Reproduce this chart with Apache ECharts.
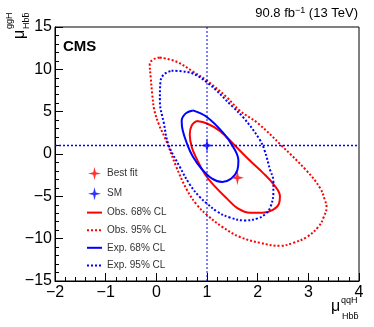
<!DOCTYPE html>
<html>
<head>
<meta charset="utf-8">
<title>mu ggH vs qqH</title>
<script src="https://cdn.jsdelivr.net/npm/echarts@6/dist/echarts.min.js"></script>
</head>
<body style="margin:0">
<div id="chart" style="width:374px;height:327px"></div>
<script>
// points: [mu qqH, mu ggH]
var bestFit = [[1.6, -2.8]];
var smPoint = [[1, 1]];

var obs68 = [[0.80, 3.9], [1.0, 3.6], [1.26, 2.7], [1.55, 1.0], [1.85, -0.8], [2.1, -2.2],
    [2.31, -3.55], [2.44, -5.0], [2.42, -5.9], [2.3, -6.6], [2.1, -6.95], [1.85, -6.95],
    [1.6, -6.4], [1.4, -5.3], [1.15, -3.8], [0.96, -2.4], [0.8, -0.6], [0.7, 0.8],
    [0.66, 2.3], [0.7, 3.4], [0.80, 3.9]];

var exp68 = [[0.72, 5.15], [0.99, 4.4], [1.32, 2.5], [1.52, 0.8], [1.62, -0.8], [1.6, -1.9],
    [1.48, -2.9], [1.3, -3.3], [1.1, -2.9], [0.9, -1.8], [0.72, -0.3], [0.6, 1.3],
    [0.52, 2.8], [0.5, 3.9], [0.58, 4.8], [0.72, 5.15]];

var obs95 = [[0.07, 11.4], [0.40, 10.9], [0.73, 9.7], [0.99, 8.7], [1.39, 6.7], [1.65, 5.1],
    [2.01, 3.6], [2.47, 1.0], [2.97, -2.0], [3.23, -4.0], [3.33, -5.5], [3.36, -6.3],
    [3.3, -7.5], [3.2, -8.6], [2.97, -9.8], [2.7, -10.5], [2.45, -10.85], [2.05, -10.5],
    [1.65, -9.8], [1.3, -8.6], [1.0, -7.2], [0.8, -6.0], [0.6, -4.2], [0.4, -1.6],
    [0.2, 1.5], [0.05, 3.5], [-0.04, 5.2], [-0.08, 7.0], [-0.11, 9.0], [-0.13, 10.6],
    [-0.05, 11.2], [0.07, 11.4]];

var exp95 = [[0.3, 9.83], [0.6, 9.7], [0.99, 8.5], [1.52, 5.5], [1.72, 4.3], [2.03, 1.8],
    [2.14, 0.35], [2.24, -1.8], [2.31, -3.2], [2.31, -4.5], [2.25, -6.3], [2.15, -7.1],
    [2.0, -7.6], [1.75, -7.85], [1.45, -7.5], [1.2, -6.8], [0.99, -5.8], [0.86, -5.1],
    [0.66, -3.6], [0.47, -1.6], [0.24, 1.1], [0.15, 3.6], [0.07, 6.3], [0.08, 8.5],
    [0.15, 9.4], [0.3, 9.83]];

var xTicks = [-2, 4, 1];
var yTicks = [-15, 15, 5];

var star = 'path://M0,-10 L2,-2 L10,0 L2,2 L0,10 L-2,2 L-10,0 L-2,-2 Z';
var font = 'Liberation Sans';

function minus(v) {
    return String(v).replace('-', '\u2212');
}

var chart = echarts.init(document.getElementById('chart'));

var contour = function (name, data, color, dotted) {
    return {
        name: name,
        type: 'line',
        data: data,
        smooth: 0.4,
        symbol: 'none',
        z: 2,
        lineStyle: {color: color, width: 2, type: dotted ? [2, 2] : 'solid'},
        itemStyle: {color: color}
    };
};

// SM guide lines across the whole frame
var guide = function (data, w) {
    return {
        type: 'line', data: data, symbol: 'none', silent: true, z: 3,
        color: '#0000ff',
        lineStyle: {color: '#0000ff', opacity: 1, width: w, type: [2, 2]}
    };
};

var noDot = {opacity: 0};

var option = {
    animation: false,
    grid: {left: 55, right: 15, top: 27, bottom: 46, show: true, borderColor: '#000', borderWidth: 1},
    xAxis: {
        type: 'value', min: xTicks[0], max: xTicks[1], interval: xTicks[2],
        axisLine: {onZero: false, lineStyle: {color: '#000'}},
        axisTick: {inside: true, length: 8, lineStyle: {color: '#000'}},
        minorTick: {show: true, splitNumber: 5, length: 4, lineStyle: {color: '#000'}},
        splitLine: {show: false},
        axisLabel: {color: '#000', fontSize: 16, fontFamily: font, margin: 4, formatter: minus}
    },
    yAxis: {
        type: 'value', min: yTicks[0], max: yTicks[1], interval: yTicks[2],
        axisLine: {onZero: false, lineStyle: {color: '#000'}},
        axisTick: {inside: true, length: 8, lineStyle: {color: '#000'}},
        minorTick: {show: true, splitNumber: 5, length: 4, lineStyle: {color: '#000'}},
        splitLine: {show: false},
        axisLabel: {color: '#000', fontSize: 16, fontFamily: font, margin: 3, formatter: minus}
    },
    legend: {
        orient: 'vertical', left: 81, top: 162,
        itemWidth: 15, itemHeight: 13, itemGap: 7.2,
        textStyle: {fontSize: 10, color: '#333', fontFamily: font},
        data: [
            {name: 'Best fit'},
            {name: 'SM'},
            {name: 'Obs. 68% CL', itemStyle: noDot},
            {name: 'Obs. 95% CL', itemStyle: noDot},
            {name: 'Exp. 68% CL', itemStyle: noDot},
            {name: 'Exp. 95% CL', itemStyle: noDot}
        ]
    },
    graphic: [
        {type: 'text', right: 16, top: 6, style: {
            text: '90.8 fb{s|\u22121} (13 TeV)', fontSize: 13, fontFamily: font, fill: '#000',
            rich: {s: {fontSize: 9, verticalAlign: 'top', padding: [0, 0, 6, 0], fontFamily: font}}
        }},
        {type: 'text', left: 63, top: 39, style: {
            text: 'CMS', fontSize: 15, fontWeight: 'bold', fontFamily: font, fill: '#000'
        }},
        {type: 'text', x: 331, y: 299, style: {text: '\u03bc', fontSize: 16, fontFamily: font, fill: '#000'}},
        {type: 'text', x: 341, y: 296, style: {text: 'qqH', fontSize: 9, fontFamily: font, fill: '#000'}},
        {type: 'text', x: 342, y: 312, style: {text: 'Hb\u0062\u0304', fontSize: 9, fontFamily: font, fill: '#000'}},
        {type: 'text', x: 12, y: 39, rotation: Math.PI / 2, style: {text: '\u03bc', fontSize: 16, fontFamily: font, fill: '#000'}},
        {type: 'text', x: 5, y: 29, rotation: Math.PI / 2, style: {text: 'ggH', fontSize: 9, fontFamily: font, fill: '#000'}},
        {type: 'text', x: 22, y: 29, rotation: Math.PI / 2, style: {text: 'Hb\u0062\u0304', fontSize: 9, fontFamily: font, fill: '#000'}}
    ],
    series: [
        {
            name: 'Best fit', type: 'scatter', data: bestFit, symbol: star, symbolSize: [13, 15], z: 5,
            itemStyle: {color: '#ff0000'}
        },
        {
            name: 'SM', type: 'scatter', data: smPoint, symbol: star, symbolSize: [13, 15], z: 5,
            itemStyle: {color: '#0000ff'}
        },
        contour('Obs. 68% CL', obs68, '#ff0000', false),
        contour('Obs. 95% CL', obs95, '#ff0000', true),
        contour('Exp. 68% CL', exp68, '#0000ff', false),
        contour('Exp. 95% CL', exp95, '#0000ff', true),
        guide([[smPoint[0][0], yTicks[0]], [smPoint[0][0], yTicks[1]]], 1),
        guide([[xTicks[0], smPoint[0][1]], [xTicks[1], smPoint[0][1]]], 1.5)
    ]
};
chart.setOption(option);
</script>
</body>
</html>
